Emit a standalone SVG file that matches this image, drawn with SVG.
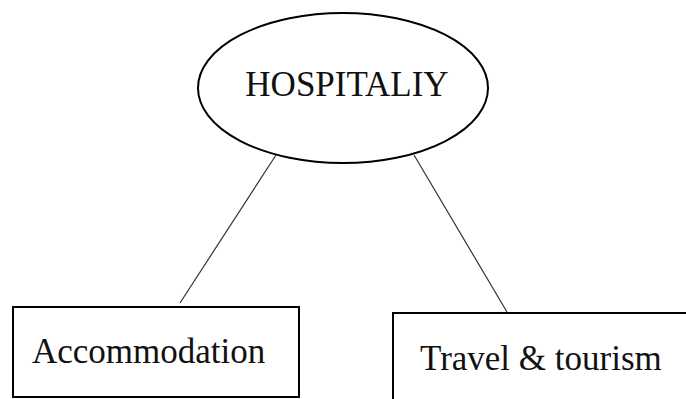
<svg xmlns="http://www.w3.org/2000/svg" width="686" height="399" viewBox="0 0 686 399">
<style>
.shape{fill:#fff;stroke:#000;stroke-width:2}
.lbl{font-family:"Liberation Serif","Times New Roman",serif;font-size:35px;fill:#111}
.conn{stroke:#333;stroke-width:1.2;fill:none}
</style>
<rect width="686" height="399" fill="#fff"/>
<g id="connectors">
<line class="conn" x1="276" y1="155" x2="180" y2="303"/>
<line class="conn" x1="414" y1="155" x2="507" y2="312"/>
</g>
<g id="hospitality">
<ellipse class="shape" cx="343" cy="88" rx="145" ry="75"/>
<text class="lbl" x="347" y="96" text-anchor="middle">HOSPITALIY</text>
</g>
<g id="accommodation">
<rect class="shape" x="13" y="307" width="286" height="90"/>
<text class="lbl" x="32" y="363">Accommodation</text>
</g>
<g id="travel">
<rect class="shape" x="393" y="313" width="310" height="100"/>
<text class="lbl" x="420" y="370">Travel &amp; tourism</text>
</g>
</svg>
